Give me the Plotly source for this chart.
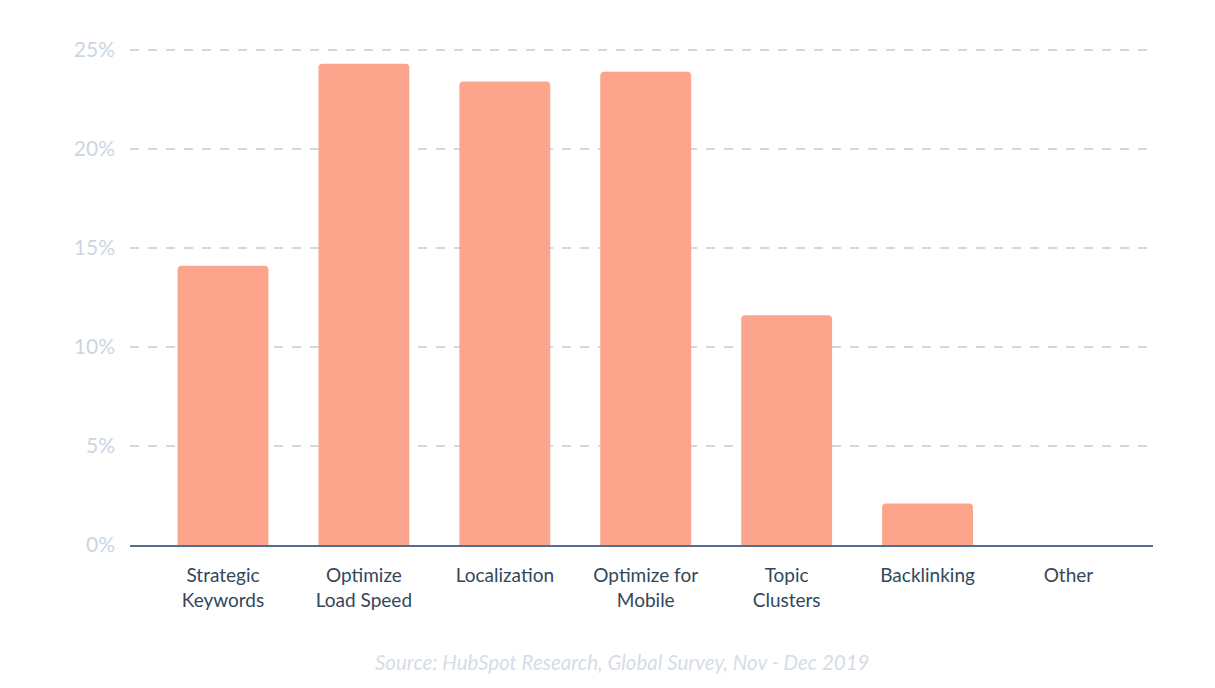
import plotly.graph_objects as go

# Data
categories = ["Strategic<br>Keywords", "Optimize<br>Load Speed", "Localization",
              "Optimize for<br>Mobile", "Topic<br>Clusters", "Backlinking", "Other"]
shares = [14.1, 24.3, 23.4, 23.9, 11.6, 2.1, 0]
y_ticks = [0, 5, 10, 15, 20, 25]
y_tick_labels = ["0%", "5%", "10%", "15%", "20%", "25%"]

fig = go.Figure(go.Bar(
    x=categories,
    y=shares,
    marker=dict(color="#FCA58C", cornerradius=4, line=dict(width=0)),
    hoverinfo="skip",
))

# page body adds an 8px offset, so the figure is a bit smaller than the window
fig.update_layout(
    width=1207, height=680,
    margin=dict(l=122, r=62, t=32, b=143),
    plot_bgcolor="white",
    paper_bgcolor="white",
    bargap=0.355,
    showlegend=False,
    font=dict(family="Lato, 'Open Sans', sans-serif"),
)

fig.update_xaxes(
    range=[-0.66, 6.6],
    showgrid=False,
    showline=True, linecolor="#516F90", linewidth=2,
    ticks="", ticklabelstandoff=12,
    tickfont=dict(size=19, color="#33475B"),
)

fig.update_yaxes(
    range=[0, 25.5],
    tickvals=y_ticks, ticktext=y_tick_labels,
    showgrid=True, gridcolor="#CFD8E3", griddash="dash", gridwidth=1.5,
    zeroline=False, showline=False,
    ticks="", ticklabelstandoff=14,
    tickfont=dict(size=21, color="#CBD6E2"),
)

fig.add_annotation(
    text="<i>Source: HubSpot Research, Global Survey, Nov - Dec 2019</i>",
    xref="paper", yref="paper", x=0.481, y=0, yshift=-117,
    xanchor="center", yanchor="middle", showarrow=False,
    font=dict(size=20.5, color="#D5DDE6"),
)

fig.write_html("out.html")
